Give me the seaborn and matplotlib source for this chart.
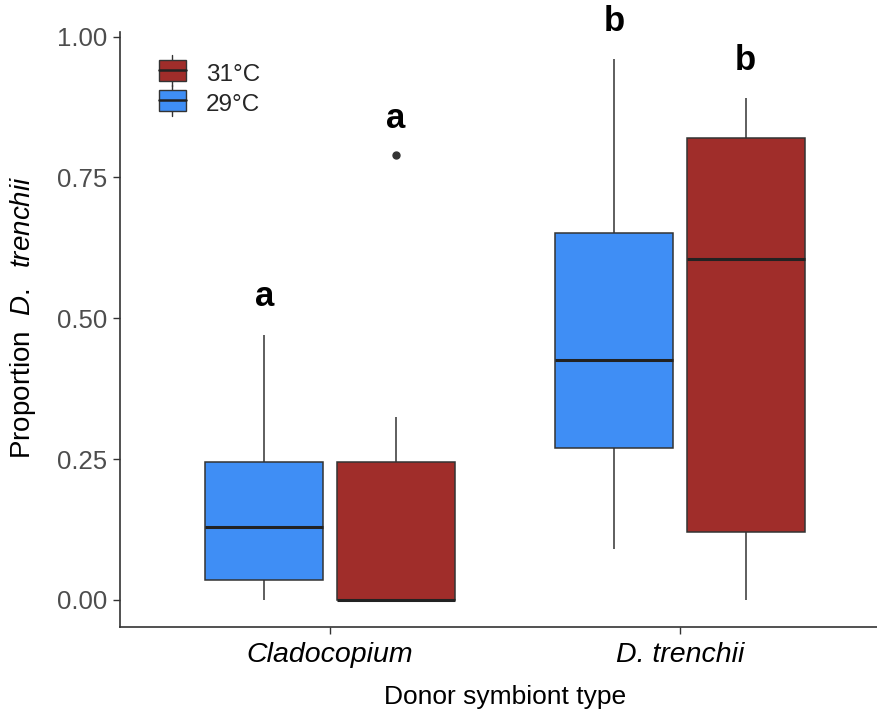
import matplotlib
matplotlib.use('Agg')
import matplotlib.pyplot as plt
import seaborn as sns
import pandas as pd
from matplotlib.legend_handler import HandlerBase
from matplotlib.patches import Rectangle
from matplotlib.lines import Line2D

# -------------------------
# Data (each list gives its box exactly)
# -------------------------
donors = ['Cladocopium', 'D. trenchii']
temps = ['29°C', '31°C']

clado_29 = [0.0, 0.035, 0.13, 0.245, 0.47]
clado_31 = [0.0, 0.0, 0.0, 0.0, 0.0, 0.10, 0.245, 0.325, 0.79]
dtren_29 = [0.09, 0.27, 0.425, 0.652, 0.96]
dtren_31 = [0.0, 0.12, 0.605, 0.82, 0.89]

letters = ['a', 'a', 'b', 'b']
letter_y = [0.51, 0.826, 0.998, 0.929]

palette = {'29°C': '#3F8EF5', '31°C': '#A02D2A'}

rows = []
for donor, temp, vals in [('Cladocopium', '29°C', clado_29),
                          ('Cladocopium', '31°C', clado_31),
                          ('D. trenchii', '29°C', dtren_29),
                          ('D. trenchii', '31°C', dtren_31)]:
    for v in vals:
        rows.append({'Donor': donor, 'Temp': temp, 'Proportion': v})
df = pd.DataFrame(rows)

# -------------------------
# Plot
# -------------------------
sns.set_style('white')
plt.rcParams['font.family'] = ['Liberation Sans', 'DejaVu Sans']
plt.rcParams['mathtext.fontset'] = 'custom'
plt.rcParams['mathtext.rm'] = 'Liberation Sans'
plt.rcParams['mathtext.it'] = 'Liberation Sans:italic'

fig = plt.figure(figsize=(8.78, 7.14), dpi=100)
ax = fig.add_axes([120 / 878, 1 - 627 / 714, 770 / 878, 595 / 714])

edge = '#333333'
sns.boxplot(data=df, x='Donor', y='Proportion', hue='Temp',
            order=donors, hue_order=temps, palette=palette,
            width=0.75, gap=0.1, saturation=1, showcaps=False,
            linecolor=edge, linewidth=1.1,
            medianprops={'color': '#222222', 'linewidth': 2.2},
            whiskerprops={'color': edge, 'linewidth': 1.1},
            flierprops={'marker': 'o', 'markersize': 5,
                        'markerfacecolor': edge, 'markeredgecolor': edge},
            legend=False, ax=ax)

ax.set_xlim(-0.6, 1.6)
ax.set_ylim(-0.048, 1.008)
ax.set_yticks([0, 0.25, 0.5, 0.75, 1.0])
ax.set_yticklabels(['0.00', '0.25', '0.50', '0.75', '1.00'])
ax.set_xticks([0, 1])
ax.set_xticklabels(donors, fontstyle='italic', fontsize=20.5, color='black')
ax.tick_params(axis='y', labelsize=18.5, labelcolor='#4D4D4D', length=5,
               width=1, color='#333333', left=True, pad=4)
ax.tick_params(axis='x', length=5, width=1, color='#333333', bottom=True, pad=6)

ax.set_xlabel('Donor symbiont type', fontsize=19, labelpad=12, color='black')
ax.set_ylabel(r'Proportion  $\it{D.\ \ trenchii}$', fontsize=20, color='black')
ax.yaxis.set_label_coords(-0.1065, 0.52)

for s in ['top', 'right']:
    ax.spines[s].set_visible(False)
for s in ['left', 'bottom']:
    ax.spines[s].set_color('#333333')
    ax.spines[s].set_linewidth(1.2)

# significance letters
xpos = [-0.1875, 0.1875, 0.8125, 1.1875]
for x, y, t in zip(xpos, letter_y, letters):
    ax.text(x, y, t, ha='center', va='bottom', fontsize=25,
            fontweight='bold', color='black')


# ggplot style legend keys
class BoxKey(HandlerBase):
    def create_artists(self, legend, orig, xd, yd, w, h, fontsize, trans):
        c = orig.get_facecolor()
        bx = xd + w * 0.05
        bw = w * 0.9
        by = yd - h * 0.05
        bh = h * 1.1
        whisk = Line2D([bx + bw / 2] * 2, [by - h * 0.3, by + bh + h * 0.3],
                       color=edge, lw=1, transform=trans)
        box = Rectangle((bx, by), bw, bh, facecolor=c, edgecolor=edge,
                        lw=1, transform=trans)
        med = Line2D([bx, bx + bw], [by + bh / 2] * 2, color='#222222',
                     lw=1.8, transform=trans)
        return [whisk, box, med]


handles = [Rectangle((0, 0), 1, 1, facecolor=palette['31°C']),
           Rectangle((0, 0), 1, 1, facecolor=palette['29°C'])]
ax.legend(handles, ['31°C', '29°C'], handler_map={Rectangle: BoxKey()},
          loc='upper left', bbox_to_anchor=(0.02, 0.985), frameon=False,
          fontsize=17.5, handlelength=1.25, handleheight=0.8,
          handletextpad=0.75, labelspacing=0.3)

plt.savefig('out.png', dpi=100)
